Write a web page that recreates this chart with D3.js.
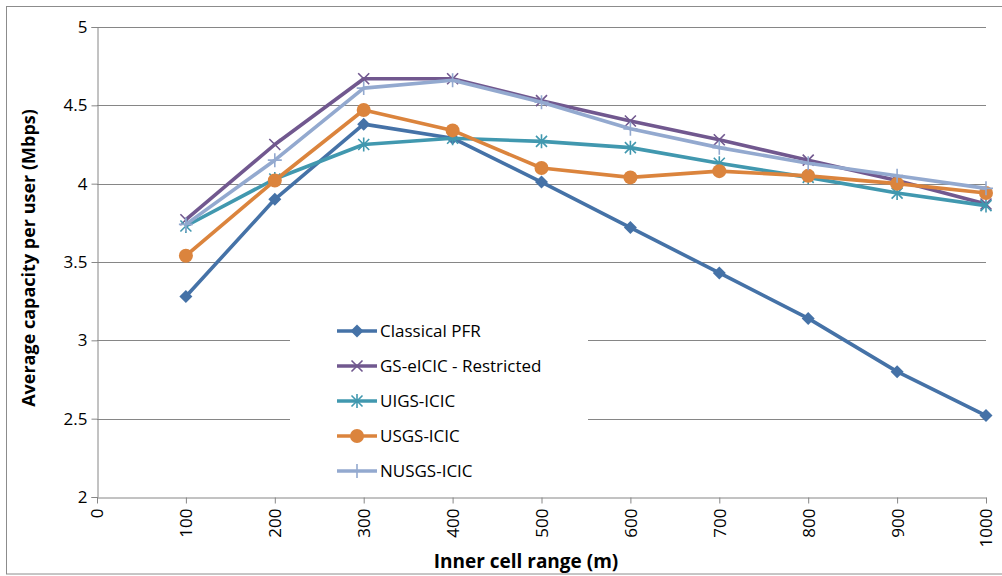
<!DOCTYPE html>
<html>
<head>
<meta charset="utf-8">
<script src="https://cdn.jsdelivr.net/npm/d3@7"></script>
<style>
  html, body { margin: 0; padding: 0; background: #fff; }
  svg { display: block; }
  text { font-family: "Open Sans", "DejaVu Sans", sans-serif; fill: #000; }
</style>
</head>
<body>
<svg id="chart" width="1002" height="576"></svg>
<script>
// Inner cell range (m)
const ranges = [100, 200, 300, 400, 500, 600, 700, 800, 900, 1000];

// Average capacity per user (Mbps) per scheme
const classicalPFR = [3.28, 3.90, 4.38, 4.29, 4.01, 3.72, 3.43, 3.14, 2.80, 2.52];
const gsEicic      = [3.77, 4.25, 4.67, 4.67, 4.53, 4.40, 4.28, 4.15, 4.02, 3.87];
const uigsIcic     = [3.73, 4.03, 4.25, 4.29, 4.27, 4.23, 4.13, 4.04, 3.94, 3.86];
const usgsIcic     = [3.54, 4.02, 4.47, 4.34, 4.10, 4.04, 4.08, 4.05, 4.00, 3.94];
const nusgsIcic    = [3.74, 4.15, 4.61, 4.66, 4.52, 4.35, 4.23, 4.13, 4.05, 3.97];

const seriesNames = ["Classical PFR", "GS-eICIC - Restricted", "UIGS-ICIC", "USGS-ICIC", "NUSGS-ICIC"];
const seriesValues = [classicalPFR, gsEicic, uigsIcic, usgsIcic, nusgsIcic];
const seriesColors = ["#4572A7", "#71588F", "#4198AF", "#DB843D", "#93A9CF"];
const seriesMarkers = ["diamond", "x", "asterisk", "circle", "plus"];

const xTicks = [0, 100, 200, 300, 400, 500, 600, 700, 800, 900, 1000];
const yTicks = [2, 2.5, 3, 3.5, 4, 4.5, 5];

const svg = d3.select("#chart");
const plot = { left: 97, right: 986, top: 27, bottom: 497 };

const x = d3.scaleLinear().domain([0, 1000]).range([plot.left, plot.right]);
const y = d3.scaleLinear().domain([2, 5]).range([plot.bottom, plot.top]);

// outer chart frame
svg.append("rect")
  .attr("x", 6.5).attr("y", 6.5).attr("width", 1000).attr("height", 567.5)
  .attr("fill", "#fff").attr("stroke", "#8c8c8c").attr("stroke-width", 1);

// horizontal gridlines
svg.append("g")
  .selectAll("line")
  .data(yTicks.filter(d => d > 2))
  .join("line")
  .attr("x1", plot.left).attr("x2", plot.right)
  .attr("y1", d => Math.round(y(d)) + 0.5).attr("y2", d => Math.round(y(d)) + 0.5)
  .attr("stroke", "#868686").attr("stroke-width", 1);

// y axis
const yAxis = svg.append("g")
  .attr("transform", `translate(${plot.left + 0.5},0)`)
  .call(d3.axisLeft(y).tickValues(yTicks).tickSize(6).tickPadding(4)
    .tickFormat(d => String(d)));
yAxis.select(".domain").attr("stroke", "#868686");
yAxis.selectAll(".tick line").attr("stroke", "#868686");
yAxis.selectAll(".tick text").attr("font-size", 17).attr("fill", "#000");

// x axis
const xAxis = svg.append("g")
  .attr("transform", `translate(0,${plot.bottom + 0.5})`)
  .call(d3.axisBottom(x).tickValues(xTicks).tickSize(6).tickSizeOuter(0)
    .tickFormat(d => String(d)));
xAxis.select(".domain").attr("stroke", "#868686");
xAxis.selectAll(".tick line").attr("stroke", "#868686");
xAxis.selectAll(".tick text")
  .attr("font-size", 17).attr("fill", "#000")
  .attr("transform", "rotate(-90)")
  .attr("text-anchor", "end")
  .attr("x", -11).attr("y", 0).attr("dy", "0.35em");

// axis titles
svg.append("text")
  .attr("x", 526).attr("y", 568)
  .attr("text-anchor", "middle")
  .attr("font-size", 19).attr("font-weight", "bold")
  .text("Inner cell range (m)");

svg.append("text")
  .attr("transform", "translate(35,258) rotate(-90)")
  .attr("text-anchor", "middle")
  .attr("font-size", 18).attr("font-weight", "bold")
  .text("Average capacity per user (Mbps)");

// marker drawing
function drawMarker(g, type, color) {
  if (type === "diamond") {
    const s = 6.5;
    g.append("path").attr("d", `M0,${-s}L${s},0L0,${s}L${-s},0Z`).attr("fill", color);
  } else if (type === "circle") {
    g.append("circle").attr("r", 7).attr("fill", color);
  } else {
    const s = 5.5;
    const p = d3.path();
    if (type === "x" || type === "asterisk") {
      p.moveTo(-s, -s); p.lineTo(s, s);
      p.moveTo(-s, s); p.lineTo(s, -s);
    }
    if (type === "asterisk" || type === "plus") {
      p.moveTo(0, -7); p.lineTo(0, 7);
    }
    if (type === "plus") {
      p.moveTo(-7, 0); p.lineTo(7, 0);
    }
    g.append("path").attr("d", p.toString()).attr("fill", "none")
      .attr("stroke", color).attr("stroke-width", 1.6);
  }
}

const line = d3.line().x((d, i) => x(ranges[i])).y(d => y(d));

seriesValues.forEach((vals, k) => {
  const g = svg.append("g");
  g.append("path")
    .datum(vals)
    .attr("d", line)
    .attr("fill", "none")
    .attr("stroke", seriesColors[k])
    .attr("stroke-width", 3.6)
    .attr("stroke-linejoin", "round");
  vals.forEach((v, i) => {
    const m = g.append("g").attr("transform", `translate(${x(ranges[i])},${y(v)})`);
    drawMarker(m, seriesMarkers[k], seriesColors[k]);
  });
});

// legend
const legend = svg.append("g");
legend.append("rect")
  .attr("x", 290).attr("y", 308).attr("width", 298).attr("height", 182)
  .attr("fill", "#fff");
seriesNames.forEach((name, k) => {
  const ly = 331 + k * 35;
  const item = legend.append("g");
  item.append("line")
    .attr("x1", 337).attr("x2", 377).attr("y1", ly).attr("y2", ly)
    .attr("stroke", seriesColors[k]).attr("stroke-width", 3.6);
  const m = item.append("g").attr("transform", `translate(357,${ly})`);
  drawMarker(m, seriesMarkers[k], seriesColors[k]);
  item.append("text")
    .attr("x", 380).attr("y", ly).attr("dy", "0.35em")
    .attr("font-size", 17)
    .text(name);
});
</script>
</body>
</html>
